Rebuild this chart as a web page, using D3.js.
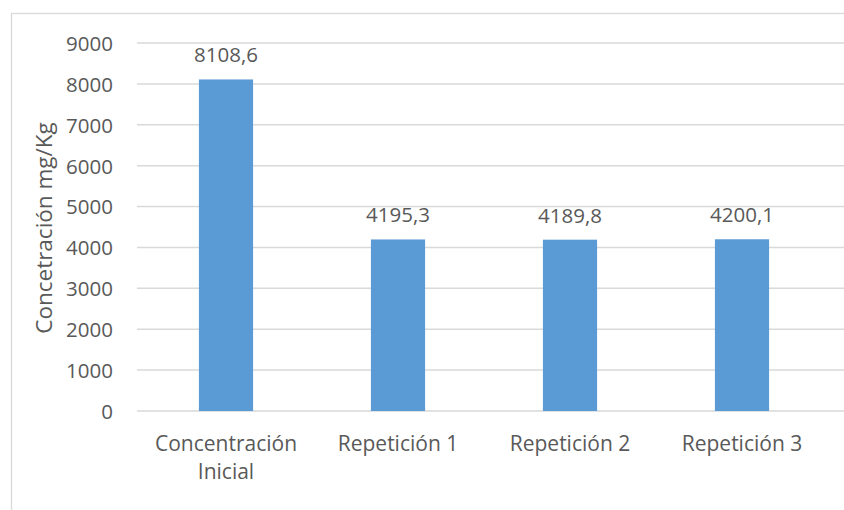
<!DOCTYPE html>
<html>
<head>
<meta charset="utf-8">
<script src="https://cdn.jsdelivr.net/npm/d3@7"></script>
<style>
  html, body { margin: 0; padding: 0; background: #fff; }
  svg { display: block; }
  text { font-family: "Open Sans", sans-serif; fill: #595959; }
</style>
</head>
<body>
<svg id="chart" width="844" height="510"></svg>
<script>
// Data
const categories = ["Concentración Inicial", "Repetición 1", "Repetición 2", "Repetición 3"];
const values = [8108.6, 4195.3, 4189.8, 4200.1];
const valueLabels = ["8108,6", "4195,3", "4189,8", "4200,1"];
const yTicks = [0, 1000, 2000, 3000, 4000, 5000, 6000, 7000, 8000, 9000];
const yTitle = "Concetración mg/Kg";

const W = 844, H = 510;
const plot = { left: 140, right: 828, top: 43, bottom: 411 };
const gridLeft = 137, gridRight = W;

const svg = d3.select("#chart");

// Chart-area frame (runs past the right and bottom edges)
svg.append("rect")
  .attr("x", 11.5).attr("y", 13.5)
  .attr("width", 900).attr("height", 600)
  .attr("fill", "none").attr("stroke", "#d9d9d9").attr("stroke-width", 1.3);

const x = d3.scaleBand()
  .domain(categories)
  .range([plot.left, plot.right])
  .paddingInner(0.685)
  .paddingOuter(0.3425);

const y = d3.scaleLinear()
  .domain([0, 9000])
  .range([plot.bottom, plot.top]);

// Horizontal gridlines
svg.append("g")
  .selectAll("line")
  .data(yTicks)
  .join("line")
  .attr("x1", gridLeft).attr("x2", gridRight)
  .attr("y1", d => y(d)).attr("y2", d => y(d))
  .attr("stroke", "#d9d9d9").attr("stroke-width", 1.5);

// Y axis tick labels
const yAxis = d3.axisLeft(y).tickValues(yTicks).tickSize(0).tickPadding(0).tickFormat(d3.format("d"));
const gy = svg.append("g").attr("transform", `translate(113,0)`).call(yAxis);
gy.select(".domain").remove();
gy.attr("font-size", null).attr("font-family", null);
gy.selectAll("text")
  .style("font-size", "20.5px")
  .attr("fill", "#595959")
  .attr("dy", "0.36em");

// Bars
svg.append("g")
  .selectAll("rect")
  .data(values)
  .join("rect")
  .attr("x", (d, i) => x(categories[i]))
  .attr("width", x.bandwidth())
  .attr("y", d => y(d))
  .attr("height", d => y(0) - y(d))
  .attr("fill", "#5b9bd5");

// Value labels above each bar
svg.append("g")
  .selectAll("text")
  .data(values)
  .join("text")
  .attr("x", (d, i) => x(categories[i]) + x.bandwidth() / 2)
  .attr("y", d => y(d) - 17)
  .attr("text-anchor", "middle")
  .style("font-size", "20.5px")
  .text((d, i) => valueLabels[i]);

// Category labels (first one wraps onto two lines)
const catLines = ["Concentración|Inicial", "Repetición 1", "Repetición 2", "Repetición 3"];
const gx = svg.append("g");
categories.forEach((c, i) => {
  const cx = x(c) + x.bandwidth() / 2;
  const t = gx.append("text")
    .attr("x", cx)
    .attr("y", 451)
    .attr("text-anchor", "middle")
    .style("font-size", "21px");
  catLines[i].split("|").forEach((l, j) => {
    t.append("tspan")
      .attr("x", cx)
      .attr("dy", j === 0 ? 0 : 27.5)
      .text(l);
  });
});

// Y axis title
svg.append("text")
  .attr("transform", `translate(52,${(plot.top + plot.bottom) / 2 + 1}) rotate(-90)`)
  .attr("text-anchor", "middle")
  .style("font-size", "22.5px")
  .text(yTitle);
</script>
</body>
</html>
